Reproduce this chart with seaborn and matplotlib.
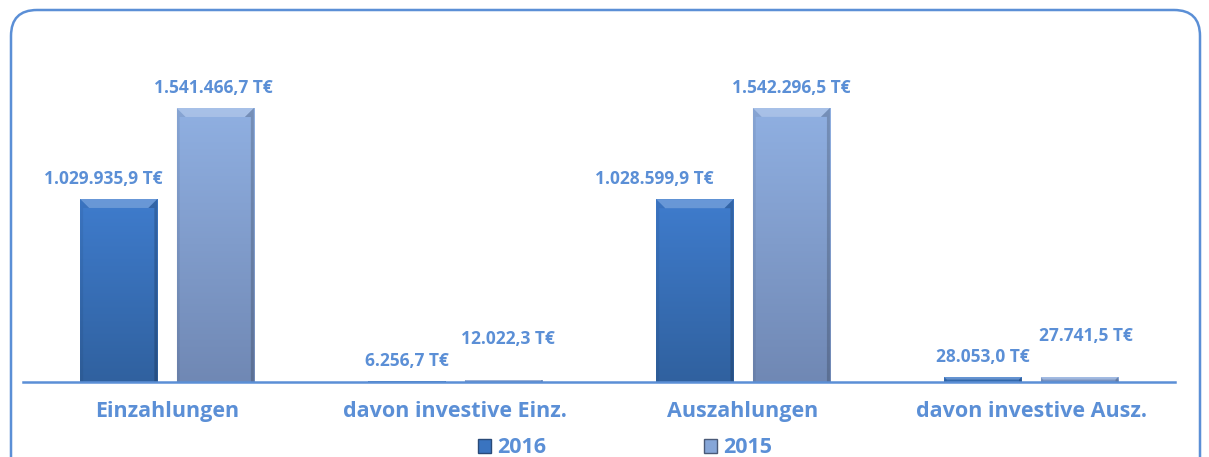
import numpy as np
import pandas as pd
import matplotlib
matplotlib.use('Agg')
import matplotlib.pyplot as plt
from matplotlib.patches import FancyBboxPatch, Polygon, Patch
from matplotlib.colors import LinearSegmentedColormap
from matplotlib.transforms import IdentityTransform
import seaborn as sns

categories = ['Einzahlungen', 'davon investive Einz.', 'Auszahlungen', 'davon investive Ausz.']
years = ['2016', '2015']
values_2016 = [1029935.9, 6256.7, 1028599.9, 28053.0]
values_2015 = [1541466.7, 12022.3, 1542296.5, 27741.5]

df = pd.DataFrame({
    'Kategorie': categories * 2,
    'Jahr': [years[0]] * 4 + [years[1]] * 4,
    'Wert': values_2016 + values_2015,
})

sns.set_theme(style='white')
plt.rcParams['font.family'] = ['Open Sans', 'DejaVu Sans']

blue_txt = '#5b8fd6'
col_2016 = '#3a74c0'
col_2015 = '#86a6d8'
grad = {'2016': ('#3f7ccd', '#30619f'), '2015': ('#90b0e2', '#7088b4')}

fig = plt.figure(figsize=(12.09, 4.57), dpi=100)
ax = fig.add_axes([0.019, 0.164, 0.953, 0.778])

sns.barplot(data=df, x='Kategorie', y='Wert', hue='Jahr', order=categories,
            hue_order=years, palette=[col_2016, col_2015], saturation=1,
            width=0.67, gap=0.2, edgecolor='#2a4a78', linewidth=0.6, ax=ax, legend=False)

ax.set_xlim(-0.5, 3.5)
ax.set_ylim(0, 2000000)

# gradient + bevel look like the office chart
ramp = np.linspace(0, 1, 256).reshape(-1, 1)
for cont, yr in zip(ax.containers, years):
    cmap = LinearSegmentedColormap.from_list('g' + yr, list(grad[yr]))
    for bar in cont:
        x0, w, h = bar.get_x(), bar.get_width(), bar.get_height()
        im = ax.imshow(ramp, cmap=cmap, extent=(x0, x0 + w, 0, h), aspect='auto',
                       origin='upper', zorder=2.5)
        im.set_clip_path(bar)
        bb = bar.get_window_extent()
        b = min(9, bb.height / 2)
        s = min(3, bb.height / 2)
        top = Polygon([(bb.x0, bb.y1), (bb.x1, bb.y1), (bb.x1 - b, bb.y1 - b), (bb.x0 + b, bb.y1 - b)],
                      closed=True, transform=IdentityTransform(), facecolor='white',
                      alpha=0.22, edgecolor='none', zorder=2.6)
        left = Polygon([(bb.x0, bb.y1), (bb.x0 + b, bb.y1 - b), (bb.x0 + s, bb.y1 - b),
                        (bb.x0 + s, bb.y0), (bb.x0, bb.y0)],
                       closed=True, transform=IdentityTransform(), facecolor='black',
                       alpha=0.06, edgecolor='none', zorder=2.6)
        right = Polygon([(bb.x1, bb.y1), (bb.x1 - b, bb.y1 - b), (bb.x1 - s, bb.y1 - b),
                         (bb.x1 - s, bb.y0), (bb.x1, bb.y0)],
                        closed=True, transform=IdentityTransform(), facecolor='black',
                        alpha=0.18, edgecolor='none', zorder=2.6)
        for poly in (top, left, right):
            ax.add_artist(poly)

def fmt(v):
    s = f'{v:,.1f}'
    return s.replace(',', 'X').replace('.', ',').replace('X', '.') + ' T€'

# label offsets (points), placed like the original
dx = {'2016': [-11, 0, -29, 0], '2015': [-1, 3, 0, 5]}
dy = {'2016': [8, 8, 8, 8], '2015': [8, 23, 8, 23]}
for cont, yr in zip(ax.containers, years):
    for bar, ox, oy in zip(cont, dx[yr], dy[yr]):
        x = bar.get_x() + bar.get_width() / 2
        h = bar.get_height()
        ax.annotate(fmt(h), (x, h), xytext=(ox, oy),
                    textcoords='offset points', ha='center', va='bottom',
                    fontsize=12.5, fontweight='bold', color=blue_txt, zorder=4)

ax.set_xlabel('')
ax.set_ylabel('')
ax.set_yticks([])
ax.tick_params(axis='x', length=0, pad=14)
for lbl in ax.get_xticklabels():
    lbl.set_fontsize(15.5)
    lbl.set_fontweight('bold')
    lbl.set_color(blue_txt)
for s in ['top', 'right', 'left']:
    ax.spines[s].set_visible(False)
ax.spines['bottom'].set_color(blue_txt)
ax.spines['bottom'].set_linewidth(1.8)
ax.spines['bottom'].set_zorder(5)
ax.set_facecolor('none')

handles = [Patch(facecolor=col_2016, edgecolor='#2a4a78'), Patch(facecolor=col_2015, edgecolor='#4a5a78')]
fig.legend(handles, years, loc='center', bbox_to_anchor=(0.517, 0.02), ncol=2,
           frameon=False, handlelength=0.6, handleheight=0.6, handletextpad=0.3,
           columnspacing=7.3, prop={'weight': 'bold', 'size': 15.5},
           labelcolor=blue_txt, borderpad=0)

# rounded frame, bottom edge runs off the picture
border = FancyBboxPatch((11, -60), 1189, 457 - 10 + 60, boxstyle='round,pad=0,rounding_size=26',
                        transform=IdentityTransform(), fill=False, edgecolor=blue_txt,
                        linewidth=1.8)
fig.patches.append(border)

fig.savefig('out.png', dpi=100, facecolor='white')
